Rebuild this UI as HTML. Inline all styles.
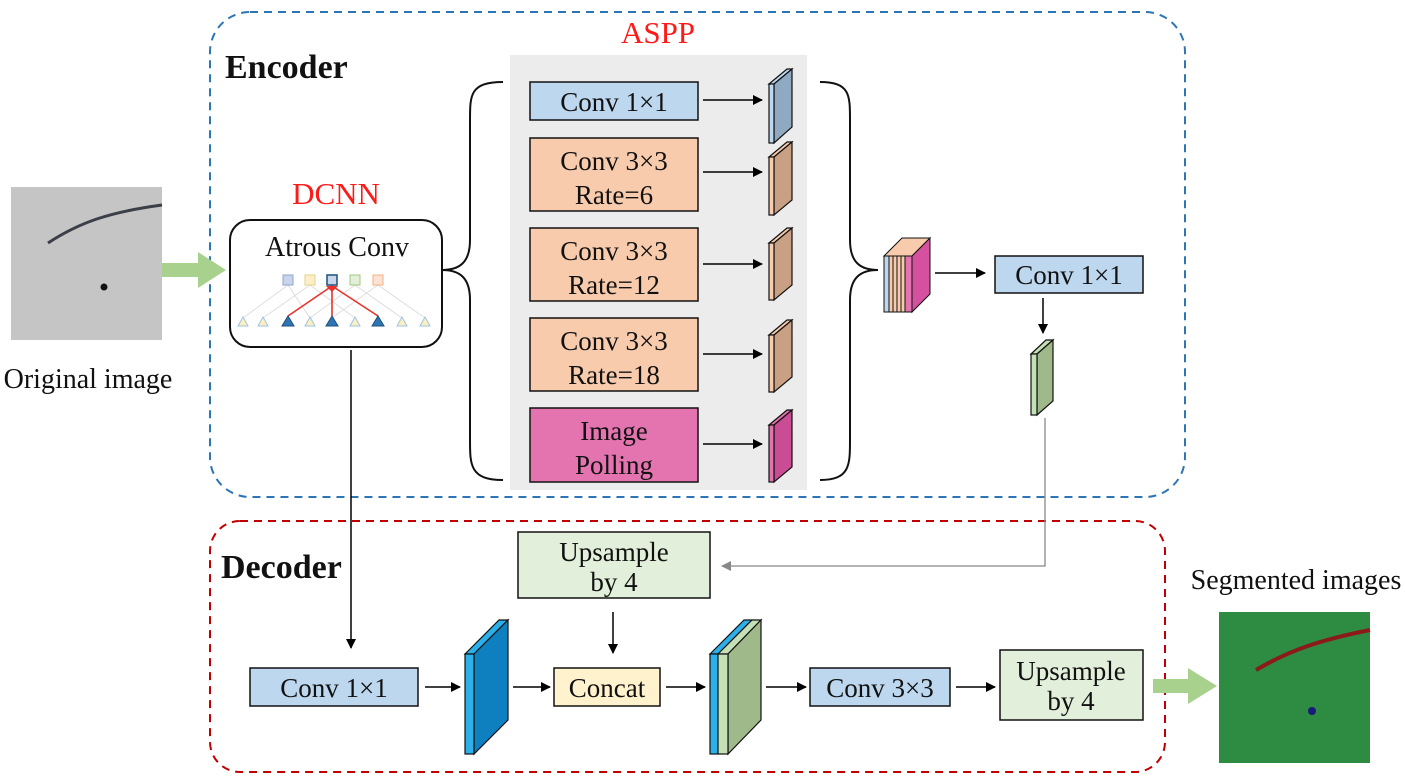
<!DOCTYPE html>
<html><head><meta charset="utf-8"><style>
html,body{margin:0;padding:0;background:#fff}
svg{display:block}
text{font-family:"Liberation Serif",serif;fill:#111}
</style></head><body>
<svg width="1405" height="776" viewBox="0 0 1405 776" xmlns="http://www.w3.org/2000/svg">
<defs>
<marker id="ah" markerWidth="10" markerHeight="10" refX="9" refY="5" orient="auto" markerUnits="userSpaceOnUse"><path d="M0,0 L10,5 L0,10 z" fill="#000"/></marker>
<marker id="ahg" markerWidth="10" markerHeight="10" refX="9" refY="5" orient="auto" markerUnits="userSpaceOnUse"><path d="M0,0 L10,5 L0,10 z" fill="#888"/></marker>
</defs>

<rect x="210" y="12" width="975" height="485" rx="40" fill="none" stroke="#2e75b6" stroke-width="2" stroke-dasharray="8,6"/>
<rect x="210" y="521" width="955" height="251" rx="30" fill="none" stroke="#c00000" stroke-width="2" stroke-dasharray="8,6"/>

<text x="225" y="78" font-size="34" font-weight="bold">Encoder</text>
<text x="221" y="578" font-size="34" font-weight="bold">Decoder</text>

<rect x="11" y="187" width="151" height="153" fill="#c5c5c5"/>
<path d="M48,243 C80,222 110,212 162,205" stroke="#3a3f48" stroke-width="3" fill="none"/>
<circle cx="104" cy="287" r="3.5" fill="#111"/>
<text x="88" y="388" font-size="28" text-anchor="middle">Original image</text>
<polygon points="162,263 198,263 198,252 226,270 198,288 198,277 162,277" fill="#a9d18e"/>

<text x="336" y="204" font-size="31" text-anchor="middle" style="fill:#ff1a1a">DCNN</text>
<rect x="230" y="220" width="212" height="127" rx="20" fill="#fff" stroke="#111" stroke-width="2"/>
<text x="337" y="256" font-size="28" text-anchor="middle">Atrous Conv</text>
<g stroke="#ddd" stroke-width="1">
<line x1="288" y1="285" x2="243" y2="318"/><line x1="288" y1="285" x2="310" y2="318"/>
<line x1="310" y1="285" x2="263" y2="318"/><line x1="310" y1="285" x2="355" y2="318"/>
<line x1="355" y1="285" x2="310" y2="318"/><line x1="355" y1="285" x2="402" y2="318"/>
<line x1="378" y1="285" x2="332" y2="318"/><line x1="378" y1="285" x2="425" y2="318"/>
<line x1="332" y1="285" x2="332" y2="318"/>
</g>
<g stroke="#e8332a" stroke-width="1.6">
<line x1="332" y1="286" x2="288" y2="316"/><line x1="332" y1="286" x2="332" y2="316"/><line x1="332" y1="286" x2="378" y2="316"/>
</g>
<polygon points="326,286 338,286 332,292" fill="#e8332a"/>
<rect x="283" y="275" width="10" height="10" fill="#c9d5ea" stroke="#8fa4cf"/>
<rect x="305" y="275" width="10" height="10" fill="#fdf0c8" stroke="#e6d08a"/>
<rect x="327" y="275" width="10" height="10" fill="#c9d5ea" stroke="#1f4e79" stroke-width="1.5"/>
<rect x="350" y="275" width="10" height="10" fill="#e2efda" stroke="#9cc87a"/>
<rect x="373" y="275" width="10" height="10" fill="#fbe2d5" stroke="#f4b183"/>
<g stroke-width="1">
<polygon points="238,326 248,326 243,317" fill="#fdf0c0" stroke="#9dc3e6"/>
<polygon points="258,326 268,326 263,317" fill="#fdf0c0" stroke="#9dc3e6"/>
<polygon points="282,326 294,326 288,316" fill="#2e75b6" stroke="#1f4e79"/>
<polygon points="305,326 315,326 310,317" fill="#fdf0c0" stroke="#9dc3e6"/>
<polygon points="326,326 338,326 332,316" fill="#2e75b6" stroke="#1f4e79"/>
<polygon points="350,326 360,326 355,317" fill="#fdf0c0" stroke="#9dc3e6"/>
<polygon points="372,326 384,326 378,316" fill="#2e75b6" stroke="#1f4e79"/>
<polygon points="397,326 407,326 402,317" fill="#fdf0c0" stroke="#9dc3e6"/>
<polygon points="420,326 430,326 425,317" fill="#fdf0c0" stroke="#9dc3e6"/>
</g>

<text x="658" y="43" font-size="31" text-anchor="middle" style="fill:#ff1a1a">ASPP</text>
<rect x="510" y="55" width="297" height="435" fill="#ececec"/>
<path d="M503,82 C470,82 470,95 470,120 L470,240 C470,262 460,270 442,270 C460,270 470,278 470,300 L470,440 C470,465 470,480 503,480" fill="none" stroke="#111" stroke-width="2"/>
<path d="M820,82 C850,82 850,95 850,120 L850,240 C850,262 860,270 878,270 C860,270 850,278 850,300 L850,440 C850,465 850,480 820,480" fill="none" stroke="#111" stroke-width="2"/>

<g stroke="#111" stroke-width="1.5">
<rect x="530" y="82" width="168" height="38" fill="#bdd7ee"/>
<rect x="530" y="138" width="168" height="73" fill="#f8cbad"/>
<rect x="530" y="228" width="168" height="73" fill="#f8cbad"/>
<rect x="530" y="318" width="168" height="73" fill="#f8cbad"/>
<rect x="530" y="408" width="168" height="74" fill="#e374b0"/>
</g>
<g font-size="27" text-anchor="middle">
<text x="614" y="111">Conv 1×1</text>
<text x="614" y="170">Conv 3×3</text><text x="614" y="204">Rate=6</text>
<text x="614" y="260">Conv 3×3</text><text x="614" y="294">Rate=12</text>
<text x="614" y="350">Conv 3×3</text><text x="614" y="384">Rate=18</text>
<text x="614" y="440">Image</text><text x="614" y="474">Polling</text>
</g>
<g stroke="#000" stroke-width="1.5" marker-end="url(#ah)">
<line x1="703" y1="100" x2="762" y2="100"/>
<line x1="703" y1="172" x2="762" y2="172"/>
<line x1="703" y1="264" x2="762" y2="264"/>
<line x1="703" y1="354" x2="762" y2="354"/>
<line x1="703" y1="444" x2="762" y2="444"/>
</g>
<g stroke="#111" stroke-width="1.2">
<polygon points="769,84 787,69 792,69 774,84" fill="#bdd7ee"/><polygon points="774,84 792,69 792,127 774,143" fill="#8ea9c1"/><rect x="769" y="84" width="5" height="59" fill="#bdd7ee"/>
<polygon points="769,157 787,142 792,142 774,157" fill="#f8cbad"/><polygon points="774,157 792,142 792,200 774,215" fill="#c9a084"/><rect x="769" y="157" width="5" height="58" fill="#f8cbad"/>
<polygon points="769,243 787,228 792,228 774,243" fill="#f8cbad"/><polygon points="774,243 792,228 792,285 774,300" fill="#c9a084"/><rect x="769" y="243" width="5" height="57" fill="#f8cbad"/>
<polygon points="769,335 787,320 792,320 774,335" fill="#f8cbad"/><polygon points="774,335 792,320 792,377 774,392" fill="#c9a084"/><rect x="769" y="335" width="5" height="57" fill="#f8cbad"/>
<polygon points="769,425 787,410 792,410 774,425" fill="#e374b0"/><polygon points="774,425 792,410 792,467 774,482" fill="#c94c94"/><rect x="769" y="425" width="5" height="57" fill="#e374b0"/>
</g>
<g stroke="#111" stroke-width="1">
<polygon points="884,256 902,238 930,238 912,256" fill="#f8cbad"/>
<rect x="884" y="256" width="5" height="56" fill="#bdd7ee"/>
<rect x="889" y="256" width="4" height="56" fill="#f8cbad"/>
<rect x="893" y="256" width="4" height="56" fill="#f8cbad"/>
<rect x="897" y="256" width="4" height="56" fill="#f8cbad"/>
<rect x="901" y="256" width="4" height="56" fill="#f8cbad"/>
<rect x="905" y="256" width="7" height="56" fill="#e374b0"/>
<polygon points="912,256 930,238 930,294 912,312" fill="#d5509e"/>
</g>
<line x1="935" y1="273" x2="985" y2="273" stroke="#000" stroke-width="1.5" marker-end="url(#ah)"/>
<rect x="995" y="256" width="148" height="37" fill="#bdd7ee" stroke="#111" stroke-width="1.5"/>
<text x="1069" y="284" font-size="27" text-anchor="middle">Conv 1×1</text>
<line x1="1043" y1="298" x2="1043" y2="333" stroke="#000" stroke-width="1.5" marker-end="url(#ah)"/>
<g stroke="#111" stroke-width="1.2">
<polygon points="1031,354 1046,340 1053,340 1037,354" fill="#c5e0b4"/>
<polygon points="1037,354 1053,340 1053,401 1037,415" fill="#a0b98a"/>
<rect x="1031" y="354" width="6" height="61" fill="#c5e0b4"/>
</g>
<polyline points="1045,418 1045,566 722,566" fill="none" stroke="#888" stroke-width="1.3" marker-end="url(#ahg)"/>

<line x1="351" y1="350" x2="351" y2="648" stroke="#000" stroke-width="1.5" marker-end="url(#ah)"/>
<rect x="518" y="532" width="192" height="66" fill="#e2efda" stroke="#111" stroke-width="1.5"/>
<text x="614" y="561" font-size="27" text-anchor="middle">Upsample</text>
<text x="614" y="591" font-size="27" text-anchor="middle">by 4</text>
<line x1="613" y1="612" x2="613" y2="653" stroke="#000" stroke-width="1.5" marker-end="url(#ah)"/>

<rect x="250" y="668" width="168" height="38" fill="#bdd7ee" stroke="#111" stroke-width="1.5"/>
<text x="334" y="697" font-size="27" text-anchor="middle">Conv 1×1</text>
<line x1="425" y1="687" x2="460" y2="687" stroke="#000" stroke-width="1.5" marker-end="url(#ah)"/>
<g stroke="#111" stroke-width="1.2">
<polygon points="465,654 499,620 508,620 474,654" fill="#2bb0ea"/>
<polygon points="474,654 508,620 508,720 474,754" fill="#0e7fbf"/>
<rect x="465" y="654" width="9" height="100" fill="#2bb0ea"/>
</g>
<line x1="513" y1="687" x2="550" y2="687" stroke="#000" stroke-width="1.5" marker-end="url(#ah)"/>
<rect x="554" y="668" width="106" height="38" fill="#fff2cc" stroke="#111" stroke-width="1.5"/>
<text x="607" y="697" font-size="27" text-anchor="middle">Concat</text>
<line x1="666" y1="687" x2="705" y2="687" stroke="#000" stroke-width="1.5" marker-end="url(#ah)"/>
<g stroke="#111" stroke-width="1.2">
<polygon points="710,654 744,620 752,620 718,654" fill="#2bb0ea"/>
<polygon points="718,654 752,620 761,620 728,654" fill="#c5e0b4"/>
<polygon points="728,654 761,620 761,720 728,754" fill="#a0b98a"/>
<rect x="710" y="654" width="8" height="100" fill="#2bb0ea"/>
<rect x="718" y="654" width="10" height="100" fill="#c5e0b4"/>
</g>
<line x1="766" y1="687" x2="806" y2="687" stroke="#000" stroke-width="1.5" marker-end="url(#ah)"/>
<rect x="810" y="668" width="140" height="38" fill="#bdd7ee" stroke="#111" stroke-width="1.5"/>
<text x="880" y="697" font-size="27" text-anchor="middle">Conv 3×3</text>
<line x1="956" y1="687" x2="995" y2="687" stroke="#000" stroke-width="1.5" marker-end="url(#ah)"/>
<rect x="1000" y="650" width="143" height="70" fill="#e2efda" stroke="#111" stroke-width="1.5"/>
<text x="1071" y="680" font-size="27" text-anchor="middle">Upsample</text>
<text x="1071" y="710" font-size="27" text-anchor="middle">by 4</text>
<polygon points="1153,679 1188,679 1188,668 1217,686 1188,704 1188,693 1153,693" fill="#a9d18e"/>

<text x="1296" y="589" font-size="28" text-anchor="middle">Segmented images</text>
<rect x="1219" y="612" width="151" height="151" fill="#2e8b42"/>
<path d="M1256,670 C1290,650 1320,640 1370,630" stroke="#8b1a1a" stroke-width="4" fill="none"/>
<circle cx="1312" cy="711" r="4" fill="#1a1a7a"/>
</svg>
</body></html>
